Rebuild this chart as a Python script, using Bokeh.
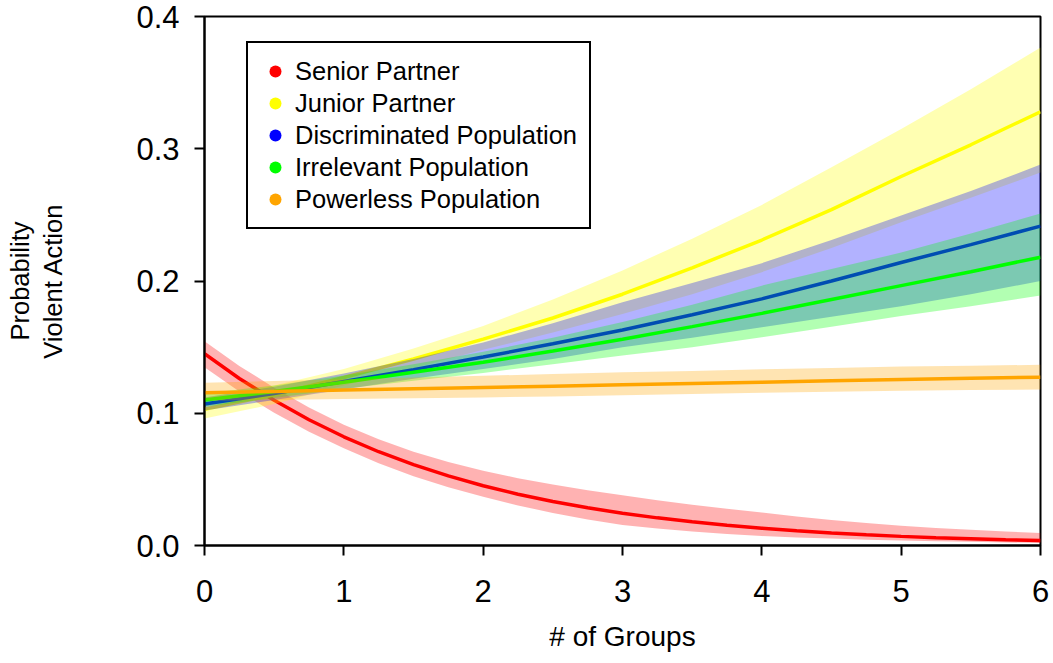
from bokeh.plotting import figure
from bokeh.models import Range1d, FixedTicker, NumeralTickFormatter, Legend, LegendItem
from bokeh.embed import file_html
from bokeh.resources import INLINE

# Number of groups (x) and predicted probabilities with confidence bands
n_groups = [0, 0.5, 1, 1.5, 2, 2.5, 3, 3.5, 4, 4.5, 5, 5.5, 6]
# The senior-partner curve bends strongly, so it is sampled more finely
n_groups_fine = [0, 0.25, 0.5, 0.75, 1, 1.25, 1.5, 1.75, 2, 2.25, 2.5, 2.75, 3,
                 3.25, 3.5, 3.75, 4, 4.25, 4.5, 4.75, 5, 5.25, 5.5, 5.75, 6]

senior_mean = [0.145, 0.1263, 0.1098, 0.0951, 0.0822, 0.0709, 0.0611, 0.0526, 0.0452,
               0.0388, 0.0333, 0.0285, 0.0244, 0.0209, 0.0179, 0.0153, 0.0131,
               0.0111, 0.0095, 0.0081, 0.0069, 0.0059, 0.0051, 0.0043, 0.0037]
senior_upper = [0.1545, 0.1358, 0.1193, 0.1043, 0.0913, 0.0803, 0.0709, 0.0632, 0.0565,
                0.0509, 0.0462, 0.0418, 0.0380, 0.0342, 0.0308, 0.0277, 0.0249,
                0.0219, 0.0193, 0.0170, 0.0150, 0.0133, 0.0119, 0.0106, 0.0095]
senior_lower = [0.1348, 0.1165, 0.1004, 0.0861, 0.0735, 0.0622, 0.0524, 0.0441, 0.0369,
                0.0303, 0.0246, 0.0197, 0.0155, 0.0128, 0.0106, 0.0087, 0.0071,
                0.0060, 0.0053, 0.0044, 0.0037, 0.0032, 0.0028, 0.0023, 0.0019]

junior_mean = [0.103, 0.114, 0.127, 0.141, 0.156, 0.172, 0.190, 0.210, 0.231, 0.254, 0.279, 0.303, 0.328]
junior_upper = [0.112, 0.121, 0.1335, 0.149, 0.166, 0.186, 0.208, 0.232, 0.2575, 0.286, 0.315, 0.345, 0.3765]
junior_lower = [0.096, 0.107, 0.121, 0.134, 0.148, 0.161, 0.175, 0.190, 0.2067, 0.225, 0.2445, 0.263, 0.282]

discrim_mean = [0.107, 0.115, 0.124, 0.133, 0.1425, 0.1525, 0.163, 0.1745, 0.1865, 0.200, 0.214, 0.2275, 0.2415]
discrim_upper = [0.112, 0.120, 0.130, 0.141, 0.1535, 0.168, 0.184, 0.1985, 0.2135, 0.231, 0.2495, 0.268, 0.288]
discrim_lower = [0.102, 0.110, 0.118, 0.126, 0.1335, 0.141, 0.150, 0.157, 0.165, 0.173, 0.181, 0.190, 0.200]

irrel_mean = [0.110, 0.1165, 0.1235, 0.131, 0.1385, 0.147, 0.156, 0.1655, 0.1755, 0.186, 0.1965, 0.207, 0.218]
irrel_upper = [0.115, 0.121, 0.1285, 0.137, 0.1465, 0.157, 0.169, 0.182, 0.1965, 0.209, 0.2215, 0.236, 0.251]
irrel_lower = [0.105, 0.1115, 0.1185, 0.1245, 0.1305, 0.137, 0.1437, 0.150, 0.1575, 0.1655, 0.1735, 0.181, 0.189]

powerless_mean = [0.1155, 0.1165, 0.1175, 0.1185, 0.1195, 0.1205, 0.1215, 0.1225, 0.1235, 0.1245, 0.1255, 0.1265, 0.1273]
powerless_upper = [0.123, 0.1243, 0.1257, 0.127, 0.1283, 0.1297, 0.131, 0.132, 0.1333, 0.1343, 0.1353, 0.136, 0.1366]
powerless_lower = [0.1095, 0.110, 0.1107, 0.1113, 0.112, 0.1127, 0.1137, 0.1145, 0.1155, 0.1162, 0.117, 0.1175, 0.118]

series_labels = ["Senior Partner", "Junior Partner", "Discriminated Population",
                 "Irrelevant Population", "Powerless Population"]
series_colors = ["#FF0000", "#FFFF00", "#0000FF", "#00FF00", "#FFA500"]

x_ticks = [0, 1, 2, 3, 4, 5, 6]
y_ticks = [0.0, 0.1, 0.2, 0.3, 0.4]

FONT = "Liberation Sans"

p = figure(width=1053, height=663, output_backend="svg", toolbar_location=None,
           x_range=Range1d(0, 6), y_range=Range1d(0, 0.4),
           min_border_left=204, min_border_right=13, min_border_top=16, min_border_bottom=118,
           background_fill_color="white", border_fill_color="white")

p.grid.visible = False
p.outline_line_color = "black"
p.outline_line_width = 2

for ax in (p.xaxis[0], p.yaxis[0]):
    ax.axis_line_color = "black"
    ax.axis_line_width = 2
    ax.major_tick_line_color = "black"
    ax.major_tick_line_width = 2
    ax.major_tick_out = 10
    ax.major_tick_in = 0
    ax.minor_tick_out = 0
    ax.minor_tick_in = 0
    ax.major_label_text_font = FONT
    ax.major_label_text_font_size = "31px"
    ax.major_label_text_color = "black"
    ax.axis_label_text_font = FONT
    ax.axis_label_text_font_style = "normal"
    ax.axis_label_text_color = "black"

p.xaxis.axis_label_text_font_size = "28px"
p.yaxis.axis_label_text_font_size = "25.5px"

p.xaxis.ticker = FixedTicker(ticks=x_ticks)
p.yaxis.ticker = FixedTicker(ticks=y_ticks)
p.yaxis.formatter = NumeralTickFormatter(format="0.0")
p.yaxis.major_label_orientation = "horizontal"
p.xaxis.major_label_standoff = 24
p.yaxis.major_label_standoff = 15
p.xaxis.axis_label = "# of Groups"
p.yaxis.axis_label = "Probability\nViolent Action"
p.xaxis.axis_label_standoff = 16
p.yaxis.axis_label_standoff = 66

series = [
    (n_groups_fine, senior_mean, senior_lower, senior_upper),
    (n_groups, junior_mean, junior_lower, junior_upper),
    (n_groups, discrim_mean, discrim_lower, discrim_upper),
    (n_groups, irrel_mean, irrel_lower, irrel_upper),
    (n_groups, powerless_mean, powerless_lower, powerless_upper),
]

# Each series: translucent confidence band, then its fitted line on top
for (xs, mean, lower, upper), color in zip(series, series_colors):
    p.varea(x=xs, y1=lower, y2=upper, fill_color=color, fill_alpha=0.3)
    p.line(x=xs, y=mean, line_color=color, line_width=3.5)

# Zero-size markers on each fitted curve give the legend its dots
items = []
for (xs, mean, _, _), label, color in zip(series, series_labels, series_colors):
    r = p.scatter(x=xs, y=mean, marker="circle", size=0,
                  fill_color=color, line_color=None)
    items.append(LegendItem(label=label, renderers=[r]))

legend = Legend(items=items, location=(42, 316),
                padding=12, spacing=0, margin=0,
                glyph_width=30, glyph_height=32, label_height=32, label_standoff=5,
                label_text_font=FONT, label_text_font_size="25.5px", label_text_color="black",
                border_line_color="black", border_line_width=2, border_line_alpha=1.0,
                background_fill_color="white", background_fill_alpha=1.0)
p.add_layout(legend)

open("out.html", "w").write(file_html(p, INLINE))
